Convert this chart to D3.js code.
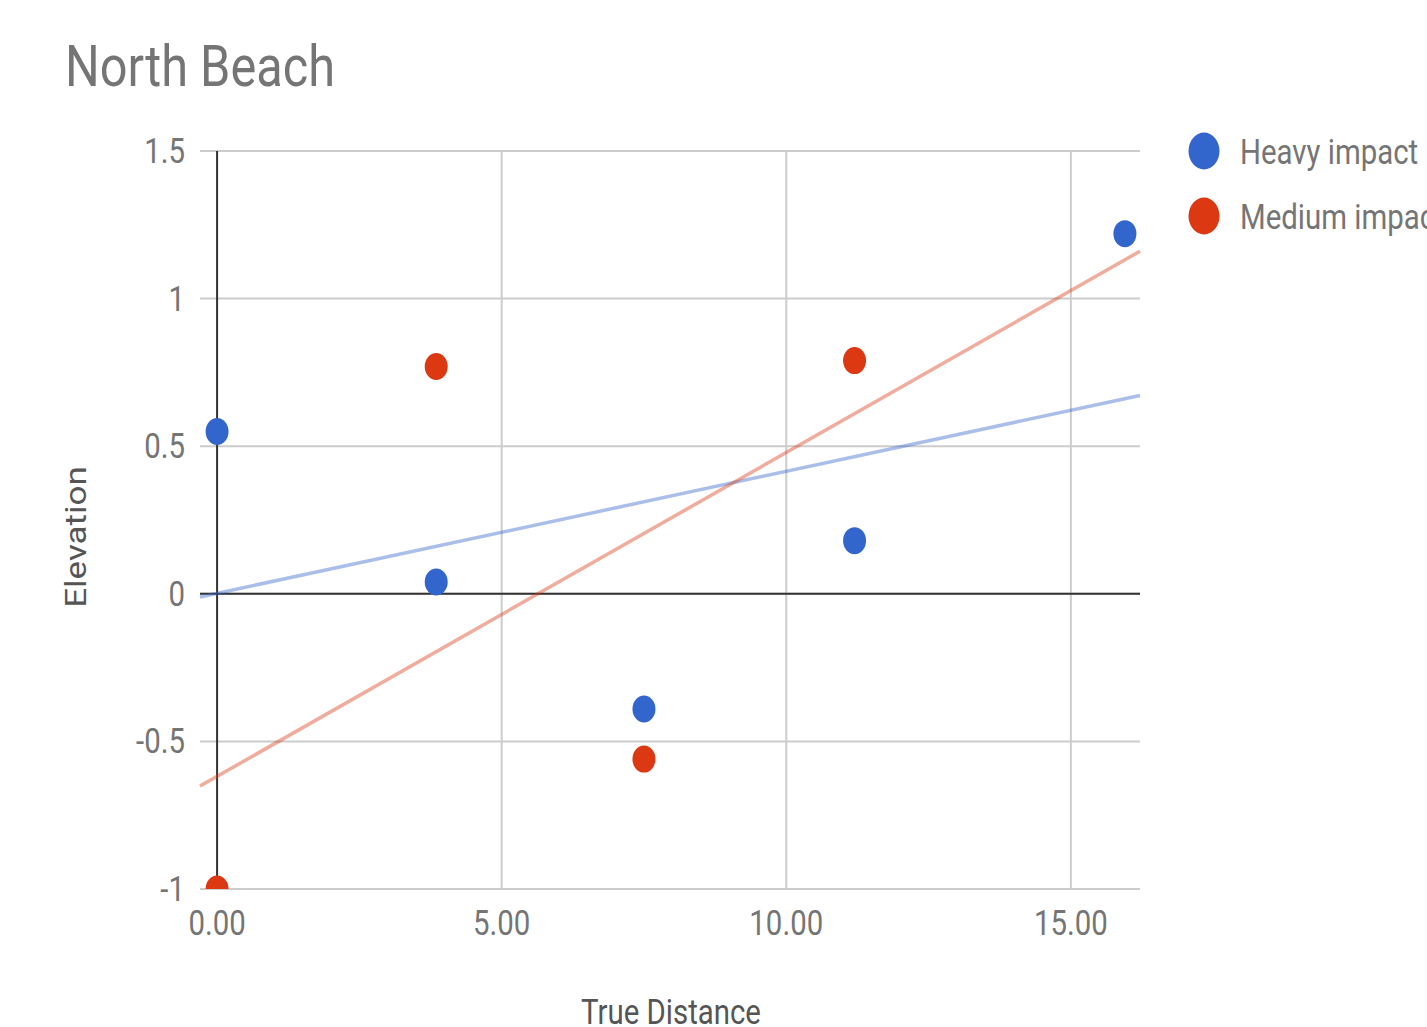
<!DOCTYPE html>
<html>
<head>
<meta charset="utf-8">
<script src="https://cdn.jsdelivr.net/npm/d3@7"></script>
<style>
  html, body { margin: 0; padding: 0; background: #fff; }
  svg { display: block; }
  text { font-family: Roboto, "Noto Sans", sans-serif; }
</style>
</head>
<body>
<svg id="chart" width="1427" height="1027"></svg>
<script>
// ---- data ----
const title = "North Beach";
const xTitle = "True Distance";
const yTitle = "Elevation";
const seriesNames = ["Heavy impact", "Medium impact"];
const seriesColors = ["#3366cc", "#dc3912"];
const heavyX = [0, 3.85, 7.5, 11.2, 15.95];
const heavyY = [0.55, 0.04, -0.39, 0.18, 1.22];
const mediumX = [0, 3.85, 7.5, 11.2];
const mediumY = [-1, 0.77, -0.56, 0.79];
const xTicks = [0, 5, 10, 15];
const yTicks = [-1, -0.5, 0, 0.5, 1, 1.5];

// ---- layout ----
const SX = 0.84; // horizontal squeeze of the reference rendering
const svg = d3.select("#chart");
const x = d3.scaleLinear().domain([-0.3, 16.215]).range([200, 1140]);
const y = d3.scaleLinear().domain([-1, 1.5]).range([889, 151]);

function sText(g, px, py, str, opts) {
  const t = g.append("text")
    .attr("transform", `translate(${px},${py}) scale(${SX},1)` + (opts.rotate ? ` rotate(${opts.rotate})` : ""))
    .attr("text-anchor", opts.anchor || "start")
    .attr("font-size", opts.size)
    .attr("fill", opts.fill || "#757575")
    .text(str);
  if (opts.baseline) t.attr("dominant-baseline", opts.baseline);
  return t;
}

// clip
svg.append("defs").append("clipPath").attr("id", "plotclip")
  .append("rect").attr("x", 190).attr("y", 151).attr("width", 960).attr("height", 738);

// gridlines
const grid = svg.append("g");
grid.selectAll("line.h").data(yTicks).join("line")
  .attr("x1", 200).attr("x2", 1140)
  .attr("y1", d => y(d)).attr("y2", d => y(d))
  .attr("stroke", "#cccccc").attr("stroke-width", 2);
grid.selectAll("line.v").data(xTicks.filter(d => d !== 0)).join("line")
  .attr("x1", d => x(d)).attr("x2", d => x(d))
  .attr("y1", y(1.5)).attr("y2", y(-1))
  .attr("stroke", "#cccccc").attr("stroke-width", 2);

// baselines
svg.append("line").attr("x1", 200).attr("x2", 1140).attr("y1", y(0)).attr("y2", y(0))
  .attr("stroke", "#333").attr("stroke-width", 2);
svg.append("line").attr("x1", x(0)).attr("x2", x(0)).attr("y1", y(1.5)).attr("y2", y(-1))
  .attr("stroke", "#333").attr("stroke-width", 2);

// axis labels
const axes = svg.append("g");
xTicks.forEach(v => sText(axes, x(v), 935, v.toFixed(2), {anchor: "middle", size: 35}));
yTicks.forEach(v => sText(axes, 185, y(v) + 12, String(v), {anchor: "end", size: 35}));

// trendlines
function fit(xs, ys) {
  const mx = d3.mean(xs), my = d3.mean(ys);
  let sxy = 0, sxx = 0;
  xs.forEach((xv, i) => { sxy += (xv - mx) * (ys[i] - my); sxx += (xv - mx) ** 2; });
  const m = sxy / sxx; return [m, my - m * mx];
}
const plot = svg.append("g").attr("clip-path", "url(#plotclip)");
const series = [[heavyX, heavyY], [mediumX, mediumY]];
const dom = x.domain();
series.forEach(([xs, ys], i) => {
  const [m, b] = fit(xs, ys);
  plot.append("line")
    .attr("x1", x(dom[0])).attr("y1", y(m * dom[0] + b))
    .attr("x2", x(dom[1])).attr("y2", y(m * dom[1] + b))
    .attr("stroke", seriesColors[i]).attr("stroke-opacity", 0.42).attr("stroke-width", 3.5);
});
series.forEach(([xs, ys], i) => {
  plot.selectAll(null).data(xs.map((v, j) => [v, ys[j]])).join("ellipse")
    .attr("cx", d => x(d[0])).attr("cy", d => y(d[1]))
    .attr("rx", 11.5).attr("ry", 13.5)
    .attr("fill", seriesColors[i]);
});

// title
sText(svg, 65, 86, title, {size: 58});

// axis titles
sText(svg, 671, 1024, xTitle, {anchor: "middle", size: 35, fill: "#555"});
sText(svg, 86, 537, yTitle, {anchor: "middle", size: 35, fill: "#555", rotate: -90});

// legend
const lg = svg.append("g");
seriesNames.forEach((n, i) => {
  const cy = 151 + i * 65;
  lg.append("ellipse").attr("cx", 1204).attr("cy", cy).attr("rx", 15.5).attr("ry", 18.5).attr("fill", seriesColors[i]);
  sText(lg, 1240, cy + 13, n, {size: 35});
});
</script>
</body>
</html>
